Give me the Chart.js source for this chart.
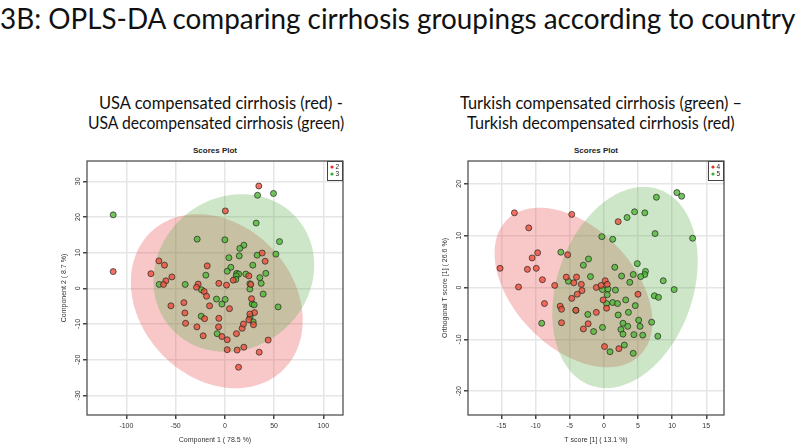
<!DOCTYPE html>
<html>
<head>
<meta charset="utf-8">
<script src="https://cdn.jsdelivr.net/npm/chart.js@4.4.1/dist/chart.umd.min.js"></script>
<style>
  body { margin: 0; background: #fff; width: 800px; height: 444px; overflow: hidden; position: relative; font-family: Lato, sans-serif; }
  .txt { position: absolute; white-space: nowrap; color: #111; transform-origin: 0 0; }
  #title { font-size: 28px; line-height: 34px; top: 1px; }
  .sub { font-size: 17px; line-height: 20px; }
  .sp { font: bold 8px "Liberation Sans", Arial, sans-serif; color: #222; }
  .box { position: absolute; top: 140px; width: 370px; height: 304px; }
</style>
</head>
<body>
<div id="title" class="txt">3B: OPLS-DA comparing cirrhosis groupings according to country</div>
<div id="s1a" class="txt sub">USA compensated cirrhosis (red) -</div>
<div id="s1b" class="txt sub">USA decompensated cirrhosis (green)</div>
<div id="s2a" class="txt sub">Turkish compensated cirrhosis (green) –</div>
<div id="s2b" class="txt sub">Turkish decompensated cirrhosis (red)</div>
<div id="sp1" class="txt sp">Scores Plot</div>
<div id="sp2" class="txt sp">Scores Plot</div>
<div class="box" style="left:0px"><canvas id="usaChart"></canvas></div>
<div class="box" style="left:380px"><canvas id="trChart"></canvas></div>
<script>
// USA: group 2 (red) / group 3 (green)
var usaGroup2 = [[34.5,28.7],[0.5,21.7],[-113.4,4.7],[-75.1,4.1],[-67,7.7],[-61.3,6.5],[-53.8,3.2],[-59.9,2.1],
  [-62.3,1.1],[-17.9,6.3],[-27.1,1.2],[-28.8,0.3],[-21,-0.9],[-18.6,-2.2],[-54.8,-4.9],[-41.6,-4.0],[-40.6,-6.9],
  [-39.9,-9.8],[-20.6,-8.5],[-28.4,-10.8],[-22,-13.3],[-15.5,-4.9],[37.9,9.9],[40.9,7.6],[8.5,2.3],[24.4,3.5],
  [26.4,1.1],[27.1,-2.9],[4.7,-5.7],[30.1,-6.8],[25.4,-7.2],[24.4,-8.8],[29.1,-10.2],[-6.1,-8.4],[-6.4,-10.8],
  [-3,-13.5],[2.4,-14.4],[11.8,-12.7],[17.6,-11.2],[18.9,-10],[44,-14.5],[2.4,-17.2],[12.5,-17.3],[19.3,-16.5],
  [34.9,-17.9],[13.9,-22.1],[1.7,0.9],[-6.1,1.4]];
var usaGroup3 = [[-113.4,20.6],[-66.7,1.1],[-40.3,1.1],[-28.1,13.8],[-19.3,3.7],[-23.7,-0.4],[-24,-7.8],[33.2,26.1],
  [49.4,26.6],[31.8,18.3],[0,13.6],[55.5,13.1],[19.3,12.1],[15.2,11.2],[51.8,9.6],[32.8,9.3],[14.6,9.1],[4.1,8.6],
  [28.4,6.5],[6.1,5.9],[2.4,4.8],[41.6,4.2],[12,4.2],[14,4],[11.5,3.5],[35.5,3.0],[25.4,1.3],[25.4,-0.2],[36.9,1.4],
  [38.9,-1.6],[54.1,-5.2],[27.8,-4.4],[29.8,-4.6],[-8.5,-3.0],[0.3,-3.1],[-3,-4.4],[25.7,-8.0],[28.8,-9.4],
  [-7.8,-12.7],[21.3,4.0],[11.2,2.5]];
// ellipses: centre x, centre y, half-width, half-height, correlation
var usaEllipses = [[-8.2,-3.6,87.3,24.4,-0.22],[9.1,4.3,81.7,22.1,0.1]];
var usaXTicks = [-100,-50,0,50,100];
var usaYTicks = [-30,-20,-10,0,10,20,30];

// Turkey: group 4 (red) / group 5 (green)
var trGroup4 = [[-13.1,14.4],[-4.7,14.1],[-11,11.5],[2.1,12.7],[-10.5,5.7],[-9.7,6.7],[-15.2,3.7],[-11.2,3.5],
  [-9.9,3.7],[-5.3,6.3],[-12.5,0.1],[-9,1.5],[-7.2,0.4],[-8.7,-3.1],[-6.4,-3.6],[-6.2,-4.2],[-6.2,-6.8],[-5.5,2.0],
  [-4.4,0.9],[-4,2.0],[-3.3,0.6],[-3.2,-0.6],[-3.9,-1.3],[-4.7,-2.1],[-4.1,-4.4],[-1.1,-4.8],[-2.3,-7.0],[-3.0,-8.0],
  [-1.1,0],[-0.4,0.4],[0.2,1.3],[0.5,0.6],[-0.1,-2.4],[0.4,-4.0],[5,-1.3],[0.1,-11.4],[2.2,-11.8]];
var trGroup5 = [[10.7,18.3],[11.4,17.6],[7.7,17.4],[4.5,14.6],[6.0,14.4],[3.4,13.5],[7.5,10.4],[13,9.5],[-0.3,9.8],
  [1.3,9.3],[-6.3,6.8],[-2.25,5.5],[-3,4.3],[1.6,3.9],[4.9,4.6],[6.1,3.1],[6.0,2.5],[5.4,2.1],[4.3,2.5],[2.6,2.2],
  [-1.96,2.1],[-5.2,1.2],[3.8,1.0],[8.7,1.3],[10.3,-0.4],[7.4,-1.6],[8.0,-1.9],[-0.2,-0.4],[0.6,-0.3],[1.7,-0.5],
  [0.5,-1.4],[0.4,-3.1],[1.3,-2.9],[2.0,-3.1],[3.2,-2.4],[4.6,-3.5],[-4.1,-4.4],[-2.35,-5.2],[2.1,-5.3],[3.6,-4.8],
  [-9.1,-6.9],[2.8,-6.9],[2.5,-8.1],[3.5,-7.5],[5.1,-6.3],[5.3,-7.5],[7.0,-6.7],[2.8,-9.0],[4.4,-9.1],[5.7,-9.2],
  [7.9,-9.4],[3.0,-11.1],[0.9,-12.4],[4.3,-12.7],[-1.5,-8.5],[-0.2,-7.7]];
var trEllipses = [[-4.45,0,11.56,15.4,-0.43],[3.1,0,10.65,19.4,0.26]];
var trXTicks = [-15,-10,-5,0,5,10,15];
var trYTicks = [-20,-10,0,10,20];

var RED = 'rgba(238,80,60,0.8)';
var GREEN = 'rgba(80,185,55,0.8)';
var ELL_FILLS = ['rgba(232,72,72,0.3)', 'rgba(88,172,72,0.3)'];
var tickFont = { family: '"Liberation Sans", Arial, sans-serif', size: 7 };

function fit(id, left, width) {
  var el = document.getElementById(id);
  var k = width / el.offsetWidth;
  el.style.left = left + 'px';
  el.style.transform = 'scaleX(' + k + ')';
}

var scorePlugin = {
  id: 'scorePlot',
  beforeDatasetsDraw: function (chart, args, opts) {
    var ctx = chart.ctx, xs = chart.scales.x, ys = chart.scales.y, a = chart.chartArea;
    ctx.save();
    ctx.beginPath();
    ctx.rect(a.left, a.top, a.right - a.left, a.bottom - a.top);
    ctx.clip();
    opts.ellipses.forEach(function (e, i) {
      var d = Math.acos(e[4]);
      ctx.beginPath();
      for (var k = 0; k <= 144; k++) {
        var t = k / 144 * 2 * Math.PI;
        var px = xs.getPixelForValue(e[0] + e[2] * Math.cos(t));
        var py = ys.getPixelForValue(e[1] + e[3] * Math.cos(t - d));
        if (k === 0) ctx.moveTo(px, py); else ctx.lineTo(px, py);
      }
      ctx.closePath();
      ctx.fillStyle = ELL_FILLS[i];
      ctx.fill();
    });
    ctx.restore();
  },
  afterDraw: function (chart, args, opts) {
    var ctx = chart.ctx, a = chart.chartArea;
    ctx.save();
    ctx.strokeStyle = '#444';
    ctx.lineWidth = 1.2;
    ctx.strokeRect(a.left, a.top, a.right - a.left, a.bottom - a.top);
    // legend box, top right inside the plot
    var lx = a.right - 16, ly = a.top;
    ctx.fillStyle = '#fff';
    ctx.fillRect(lx, ly, 16, 20);
    ctx.lineWidth = 1;
    ctx.strokeRect(lx + 0.5, ly + 0.5, 15, 19);
    ctx.font = '6.5px "Liberation Sans", Arial, sans-serif';
    ctx.textBaseline = 'middle';
    chart.data.datasets.forEach(function (ds, i) {
      var y = ly + 6 + i * 7;
      ctx.beginPath();
      ctx.arc(lx + 5, y, 1.6, 0, 2 * Math.PI);
      ctx.fillStyle = i === 0 ? '#e83020' : '#30b030';
      ctx.fill();
      ctx.fillStyle = '#222';
      ctx.fillText(ds.label, lx + 8.5, y);
    });
    ctx.restore();
  }
};

function toPoints(arr) {
  return arr.map(function (p) { return { x: p[0], y: p[1] }; });
}

function makeChart(id, opt) {
  return new Chart(document.getElementById(id), {
    type: 'scatter',
    data: {
      datasets: [
        { label: opt.labels[0], data: toPoints(opt.red), backgroundColor: RED },
        { label: opt.labels[1], data: toPoints(opt.green), backgroundColor: GREEN },
      ],
    },
    options: {
      responsive: true,
      maintainAspectRatio: false,
      animation: false,
      layout: { padding: { top: 21, right: opt.padRight, left: 0, bottom: 0 } },
      elements: { point: { radius: 3, borderWidth: 0.7, borderColor: '#222', hoverRadius: 3 } },
      plugins: {
        legend: { display: false },
        tooltip: { enabled: false },
        scorePlot: { ellipses: opt.ellipses },
      },
      scales: {
        x: {
          type: 'linear',
          min: opt.xRange[0],
          max: opt.xRange[1],
          afterBuildTicks: function (s) { s.ticks = opt.xTicks.map(function (v) { return { value: v }; }); },
          afterFit: function (s) { s.height = 29; },
          grid: { color: '#e6e6e6', lineWidth: 1.5, tickColor: '#444', tickLength: 4 },
          border: { display: false },
          ticks: { font: tickFont, color: '#333', padding: 3, maxRotation: 0, autoSkip: false },
          title: { display: true, text: opt.xTitle, font: tickFont, color: '#333', padding: { top: 0, bottom: 0 } },
        },
        y: {
          type: 'linear',
          min: opt.yRange[0],
          max: opt.yRange[1],
          afterBuildTicks: function (s) { s.ticks = opt.yTicks.map(function (v) { return { value: v }; }); },
          afterFit: function (s) { s.width = opt.yWidth; },
          grid: { color: '#e6e6e6', lineWidth: 1.5, tickColor: '#444', tickLength: 4 },
          border: { display: false },
          ticks: { font: tickFont, color: '#333', padding: 0, minRotation: 90, maxRotation: 90, crossAlign: 'center', autoSkip: false },
          title: { display: true, text: opt.yTitle, font: tickFont, color: '#333', padding: { top: opt.yTitlePad, bottom: 0 } },
        },
      },
    },
    plugins: [scorePlugin],
  });
}

fit('title', 0, 795);
fit('s1a', 99, 244);
fit('s1b', 88, 256);
fit('s2a', 460, 282);
fit('s2b', 467, 268);
document.getElementById('s1a').style.top = '93px';
document.getElementById('s1b').style.top = '113px';
document.getElementById('s2a').style.top = '93px';
document.getElementById('s2b').style.top = '113px';
var sp1 = document.getElementById('sp1'), sp2 = document.getElementById('sp2');
sp1.style.top = sp2.style.top = '146px';
sp1.style.left = (215 - sp1.offsetWidth / 2) + 'px';
sp2.style.left = (596 - sp2.offsetWidth / 2) + 'px';

makeChart('usaChart', {
  red: usaGroup2, green: usaGroup3, labels: ['2', '3'], ellipses: usaEllipses,
  xTicks: usaXTicks, yTicks: usaYTicks, xRange: [-140, 120], yRange: [-35.5, 35.7],
  xTitle: 'Component 1 ( 78.5 %)', yTitle: 'Component 2 ( 8.7 %)',
  padRight: 27, yWidth: 87, yTitlePad: 60,
});

makeChart('trChart', {
  red: trGroup4, green: trGroup5, labels: ['4', '5'], ellipses: trEllipses,
  xTicks: trXTicks, yTicks: trYTicks, xRange: [-19.9, 17.6], yRange: [-24.6, 24.4],
  xTitle: 'T score [1] ( 13.1 %)', yTitle: 'Orthogonal T score [1] ( 26.6 %)',
  padRight: 26, yWidth: 88, yTitlePad: 61,
});
</script>
</body>
</html>
